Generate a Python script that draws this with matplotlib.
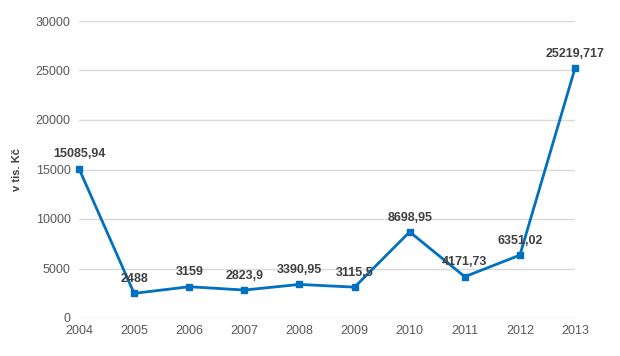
import matplotlib
matplotlib.use("Agg")
import matplotlib.pyplot as plt

years = [2004, 2005, 2006, 2007, 2008, 2009, 2010, 2011, 2012, 2013]
values = [15085.94, 2488, 3159, 2823.9, 3390.95, 3115.5, 8698.95, 4171.73, 6351.02, 25219.717]
labels = ["15085,94", "2488", "3159", "2823,9", "3390,95", "3115,5", "8698,95", "4171,73", "6351,02", "25219,717"]
yticks = [0, 5000, 10000, 15000, 20000, 25000, 30000]

plt.rcParams['font.family'] = ['Liberation Sans', 'DejaVu Sans']

fig = plt.figure(figsize=(6.2, 3.56), dpi=100)
ax = fig.add_axes([79/620, 1-318/356, (575-79)/620, (318-21)/356])

ax.set_xlim(2004, 2013)
ax.set_ylim(0, 30000)
ax.set_yticks(yticks)
ax.set_xticks(years)
ax.grid(axis='y', color='#d9d9d9', linewidth=1)
ax.set_axisbelow(True)
for s in ax.spines.values():
    s.set_visible(False)
ax.tick_params(length=0, labelsize=9, colors='#595959', pad=6)
ax.tick_params(axis='x', pad=5)

ax.plot(years, values, color='#0070C0', linewidth=2, marker='s', markersize=5,
        clip_on=False, zorder=3)
for x, y, t in zip(years, values, labels):
    ax.annotate(t, (x, y), xytext=(0, 6), textcoords='offset points',
                ha='center', va='bottom', fontsize=9, fontweight='bold', color='#404040')

ax.set_ylabel("v tis. Kč", fontsize=8, fontweight='bold', color='#404040', labelpad=10)

fig.savefig("out.png", dpi=100)
